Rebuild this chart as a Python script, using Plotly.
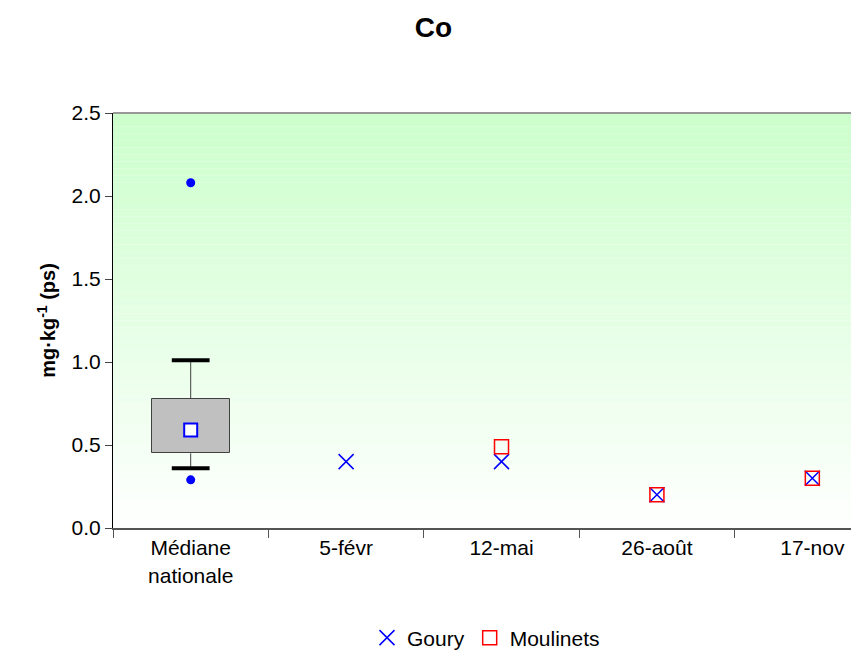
import plotly.graph_objects as go

categories = ['Médiane<br>nationale', '5-févr', '12-mai', '26-août', '17-nov']
nat = categories[0]
box_q1, box_q3 = 0.45, 0.78
whisker_low, whisker_high = 0.36, 1.01
nat_mean = 0.59
outliers = [0.29, 2.08]
goury = [0.40, 0.40, 0.20, 0.30]
moulinets = [None, 0.49, 0.20, 0.30]

fig = go.Figure()

# box
fig.add_trace(go.Bar(x=[nat], y=[box_q3 - box_q1], base=[box_q1], width=0.5,
                     marker=dict(color='#c0c0c0', line=dict(color='#404040', width=1)),
                     showlegend=False, hoverinfo='skip'))
# stems
for a, b in [(box_q3, whisker_high), (whisker_low, box_q1)]:
    fig.add_trace(go.Scatter(x=[nat, nat], y=[a, b], mode='lines',
                             line=dict(color='#404040', width=1), showlegend=False))
# caps
fig.add_trace(go.Scatter(x=[nat, nat], y=[whisker_low, whisker_high], mode='markers',
                         marker=dict(symbol='line-ew', size=27, line=dict(color='black', width=4)),
                         showlegend=False))
fig.add_trace(go.Scatter(x=[nat, nat], y=outliers, mode='markers',
                         marker=dict(symbol='circle', size=9, color='blue'), showlegend=False))
fig.add_trace(go.Scatter(x=[nat], y=[nat_mean], mode='markers',
                         marker=dict(symbol='square', size=13, color='white',
                                     line=dict(color='blue', width=2)), showlegend=False))

fig.add_trace(go.Scatter(x=categories[1:], y=goury, mode='markers', name='Goury',
                         marker=dict(symbol='x-thin', size=15, line=dict(color='blue', width=1.5))))
fig.add_trace(go.Scatter(x=categories[1:], y=moulinets, mode='markers', name='Moulinets',
                         marker=dict(symbol='square-open', size=14, color='red',
                                     line=dict(width=1.5))))

# gradient background
n = 60
shapes = []
for i in range(n):
    t = (i + 0.5) / n
    r = int(255 - 51 * t)
    b = int(255 - 51 * t)
    shapes.append(dict(type='rect', xref='paper', yref='paper', x0=0, x1=1,
                       y0=i / n, y1=(i + 1) / n, fillcolor=f'rgb({r},255,{b})',
                       line=dict(width=0), layer='below'))
shapes.append(dict(type='line', xref='paper', yref='paper', x0=0, x1=1, y0=1, y1=1,
                   line=dict(color='#999999', width=2)))

fig.update_layout(
    width=851, height=651, plot_bgcolor='white', paper_bgcolor='white',
    font=dict(family='Liberation Sans, Arial', size=21, color='black'),
    title=dict(text='<b>Co</b>', x=0.5, y=0.985, xanchor='center', yanchor='top', font=dict(size=28)),
    margin=dict(l=105, r=0, t=105, b=129),
    shapes=shapes, bargap=0,
    legend=dict(orientation='h', x=0.5, xanchor='center', y=-0.265, yanchor='middle',
                font=dict(size=21)),
    xaxis=dict(type='category', categoryorder='array', categoryarray=categories,
               showline=True, linecolor='#555555', linewidth=2, ticks='outside',
               tickson='boundaries', ticklen=8, tickcolor='#555555', showgrid=False,
               automargin=False),
    yaxis=dict(range=[0, 2.5], dtick=0.5, tickformat='.1f', showline=True,
               linecolor='black', linewidth=1, ticks='outside', ticklen=7,
               showgrid=False, zeroline=False, automargin=False,
               title=dict(text='<b>mg·kg<sup>-1</sup> (ps)</b>', font=dict(size=20), standoff=10)),
)
fig.write_html('out.html')
